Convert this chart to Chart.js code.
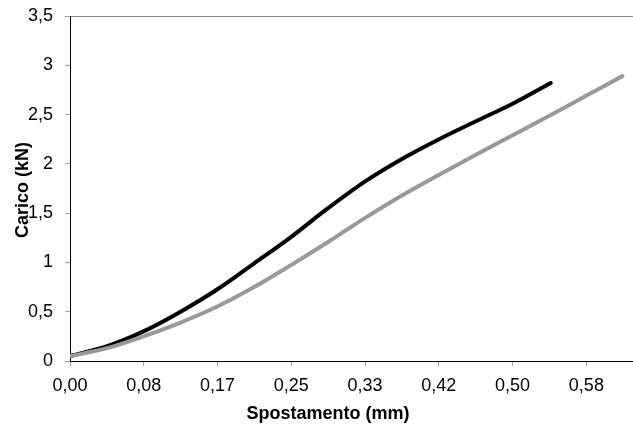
<!DOCTYPE html>
<html>
<head>
<meta charset="utf-8">
<script src="https://cdn.jsdelivr.net/npm/chart.js@4.4.1/dist/chart.umd.min.js"></script>
<style>
html,body{margin:0;padding:0;background:#fff;}
#wrap{width:633px;height:432px;}
</style>
</head>
<body>
<div id="wrap"><canvas id="c" width="633" height="432"></canvas></div>
<script>
// Data
const blackX = [0.000, 0.042, 0.083, 0.125, 0.167, 0.208, 0.250, 0.290, 0.333, 0.375, 0.417, 0.458, 0.500, 0.543];
const blackY = [0.05, 0.15, 0.30, 0.50, 0.73, 0.99, 1.26, 1.54, 1.82, 2.05, 2.25, 2.43, 2.61, 2.82];
const grayX  = [0.000, 0.042, 0.083, 0.125, 0.167, 0.208, 0.250, 0.292, 0.333, 0.375, 0.417, 0.458, 0.500, 0.542, 0.583, 0.624];
const grayY  = [0.05, 0.13, 0.25, 0.39, 0.555, 0.75, 0.975, 1.21, 1.45, 1.68, 1.89, 2.09, 2.29, 2.49, 2.69, 2.89];
const xTickValues = [0, 1/12, 2/12, 3/12, 4/12, 5/12, 6/12, 7/12];
const yTickValues = [0, 0.5, 1, 1.5, 2, 2.5, 3, 3.5];
const xTitle = 'Spostamento (mm)';
const yTitle = 'Carico (kN)';

const FONT = '"Liberation Sans", Arial, Helvetica, sans-serif';
const toPts = (xs, ys) => xs.map((x, i) => ({x: x, y: ys[i]}));

const titlePlugin = {
  id: 'axisTitles',
  afterDraw(chart) {
    const ctx = chart.ctx;
    ctx.save();
    ctx.fillStyle = '#000';
    ctx.font = 'bold 18px ' + FONT;
    ctx.textAlign = 'center';
    ctx.textBaseline = 'middle';
    ctx.fillText(xTitle, 328, 414);
    ctx.translate(23, 190);
    ctx.rotate(-Math.PI / 2);
    ctx.fillText(yTitle, 0, 0);
    ctx.restore();
  }
};

new Chart(document.getElementById('c'), {
  type: 'scatter',
  data: {
    datasets: [
      {
        data: toPts(grayX, grayY),
        showLine: true,
        borderColor: '#999999',
        borderWidth: 4,
        pointRadius: 0,
        cubicInterpolationMode: 'monotone',
        borderCapStyle: 'round',
        borderJoinStyle: 'round'
      },
      {
        data: toPts(blackX, blackY),
        showLine: true,
        borderColor: '#000000',
        borderWidth: 4,
        pointRadius: 0,
        cubicInterpolationMode: 'monotone',
        borderCapStyle: 'round',
        borderJoinStyle: 'round'
      }
    ]
  },
  options: {
    responsive: false,
    animation: false,
    events: [],
    layout: {padding: {top: 16, right: 0, left: 0, bottom: 0}},
    plugins: {legend: {display: false}, tooltip: {enabled: false}},
    scales: {
      x: {
        type: 'linear',
        min: 0,
        max: 0.636,
        afterBuildTicks: s => { s.ticks = xTickValues.map(v => ({value: v})); },
        afterFit: s => { s.height = 71; s.paddingLeft = 0; s.paddingRight = 0; },
        border: {color: '#000', width: 1},
        grid: {drawOnChartArea: false, tickLength: 5, tickColor: '#a0a0a0'},
        ticks: {
          color: '#000',
          font: {family: FONT, size: 18},
          padding: 9,
          maxRotation: 0,
          autoSkip: false,
          callback: v => v.toFixed(2).replace('.', ',')
        }
      },
      y: {
        min: 0,
        max: 3.5,
        afterBuildTicks: s => { s.ticks = yTickValues.map(v => ({value: v})); },
        afterFit: s => { s.width = 70; s.paddingTop = 0; s.paddingBottom = 0; },
        border: {color: '#000', width: 1},
        grid: {
          color: c => (c.tick && c.tick.value === 3.5) ? '#888888' : 'rgba(0,0,0,0)',
          tickLength: 5,
          tickColor: '#a0a0a0'
        },
        ticks: {
          color: '#000',
          font: {family: FONT, size: 18},
          padding: 12,
          callback: v => String(v).replace('.', ',')
        }
      }
    }
  },
  plugins: [titlePlugin]
});
</script>
</body>
</html>
